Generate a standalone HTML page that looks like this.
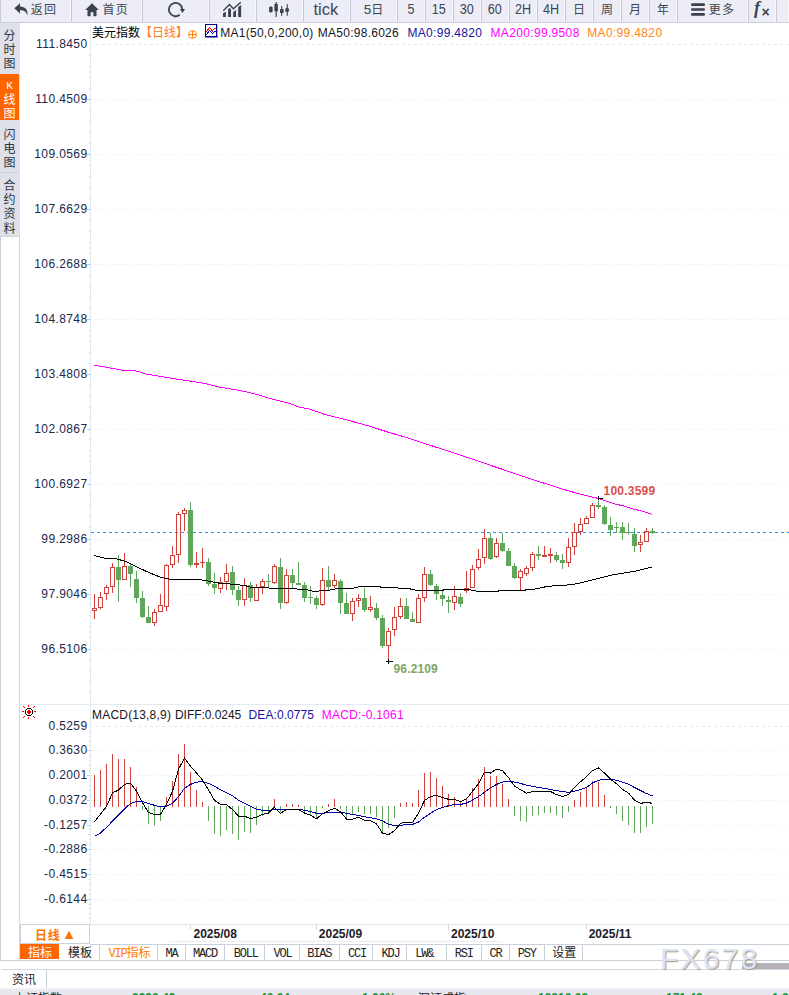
<!DOCTYPE html>
<html lang="zh"><head><meta charset="utf-8"><title>美元指数 日线</title><style>
html,body{margin:0;padding:0;background:#fff}
body{width:789px;height:995px;position:relative;overflow:hidden;font-family:"Liberation Sans","Noto Sans CJK SC",sans-serif;font-size:12px;color:#222}
.a{position:absolute;white-space:nowrap}
#tb{position:absolute;left:0;top:0;width:789px;height:22px;background:#ecedf6;border-bottom:1px solid #cdd0d9}
.b{position:absolute;top:0;height:22px;box-sizing:border-box;border-left:1px solid #c6c9d3;border-right:1px solid #f7f8fb;color:#3d4552;text-align:center;white-space:nowrap}
.b.first{border-left:1px solid #c9cbd3}
.t13{font-size:12px;line-height:20px}.ls{letter-spacing:1.2px}
.num{font-size:14px;line-height:19px}.num span{display:inline-block;transform:scaleX(.9)}
#sb{position:absolute;left:0;top:23px;width:20px;height:213px;background:#dfe1ea;border-bottom:1px solid #d0d8e0}
.sv{position:absolute;left:0;width:19px;text-align:center;font-size:12px;line-height:14px;color:#2e3542}
.yl{position:absolute;width:60px;text-align:right;font-size:12px;line-height:14px;color:#20284a;white-space:nowrap;letter-spacing:.4px}
.tab{position:absolute;top:945px;height:15px;line-height:17px;overflow:hidden;text-align:center;font-size:12px;white-space:nowrap;box-sizing:border-box;border-right:1px solid #c8d0dc;color:#222}
.mono{font-family:"Liberation Mono","Noto Sans CJK SC",monospace;letter-spacing:-1.2px;font-size:12px}
</style></head><body>
<div id="tb">
<div class="b t13 first" style="left:0px;width:71px"><svg width="15" height="13" viewBox="0 0 15 13" style="vertical-align:-2px;margin-right:2px"><path d="M6 0.2 L0.3 5.3 L6 10.4 V7.2 C9.6 7.1 12 8.2 13.3 12.2 C14.3 6.6 10.8 3.5 6 3.4 Z" fill="#39424e"/></svg><span class="ls">返回</span></div>
<div class="b t13" style="left:71px;width:71px"><svg width="14" height="14" viewBox="0 0 14 14" style="vertical-align:-3px;margin-right:3.5px;margin-left:1px"><path d="M7 0.3 L0.2 6.9 H2.5 V13.3 H5.6 V9.2 H8.4 V13.3 H11.5 V6.9 H13.8 Z" fill="#39424e"/></svg><span class="ls">首页</span></div>
<div class="b " style="left:142px;width:67px"><svg width="20" height="20" viewBox="0 0 20 20" style="position:absolute;left:23px;top:0px"><path d="M13.72 14.83 A6.7 6.7 0 1 1 16.3 9.35" fill="none" stroke="#39424e" stroke-width="1.8"/><path d="M13.9 9.1 H19 L16.45 13 Z" fill="#39424e"/></svg></div>
<div class="b " style="left:209px;width:47px"><svg width="20" height="17" viewBox="0 0 20 17" style="position:absolute;left:13px;top:1px"><g fill="#39424e"><path d="M0 15.9V12.3L2.9 10.8V15.9Z"/><path d="M5.1 15.9V8.3L6.55 7L8 8.3V15.9Z"/><path d="M10.2 15.9V11.2L13 9V15.9Z"/><path d="M15.2 15.9V6.1L18.1 3.9V15.9Z"/></g><path d="M0.2 9.7L6.4 3.4L10.4 7.7L17.8 1.2" fill="none" stroke="#39424e" stroke-width="1.4"/></svg></div>
<div class="b " style="left:256px;width:47px"><svg width="22" height="17" viewBox="0 0 22 17" style="position:absolute;left:11px;top:1px"><g fill="#39424e"><rect x="1.1" y="6.1" width="3.5" height="4.9" rx=".5"/><rect x="2.35" y="5" width="1" height="6.9"/><rect x="6.4" y="3" width="3.5" height="7.3" rx=".5"/><rect x="7.6" y="1" width="1.2" height="14.9"/><rect x="12" y="8.1" width="3.6" height="3.8" rx=".5"/><rect x="13.1" y="5" width="1.1" height="9.8"/><rect x="17.3" y="7.2" width="3.6" height="3.6" rx=".5"/><rect x="18.7" y="3.2" width="1.1" height="11.6"/></g></svg></div>
<div class="b tick" style="left:303px;width:47px"><span style="font-size:16.5px;line-height:19px;margin-left:-1.5px">tick</span></div>
<div class="b t13" style="left:350px;width:47px"><span style="font-size:13.5px">5</span>日</div>
<div class="b num" style="left:397px;width:28px"><span>5</span></div>
<div class="b num" style="left:425px;width:28px"><span>15</span></div>
<div class="b num" style="left:453px;width:28px"><span>30</span></div>
<div class="b num" style="left:481px;width:28px"><span>60</span></div>
<div class="b num" style="left:509px;width:28px"><span>2H</span></div>
<div class="b num" style="left:537px;width:28px"><span>4H</span></div>
<div class="b t13" style="left:565px;width:28px">日</div>
<div class="b t13" style="left:593px;width:28px">周</div>
<div class="b t13" style="left:621px;width:28px">月</div>
<div class="b t13" style="left:649px;width:28px">年</div>
<div class="b t13" style="left:677px;width:71px"><svg width="14" height="13" viewBox="0 0 14 13" style="vertical-align:-2px;margin-right:4px;margin-left:1px"><g fill="#39424e"><rect x="0" y="0.3" width="14" height="2.6" rx="1.2"/><rect x="0" y="5.2" width="14" height="2.6" rx="1.2"/><rect x="0" y="10.1" width="14" height="2.6" rx="1.2"/></g></svg><span class="ls">更多</span></div>
<div class="b fx" style="left:748px;width:28px"><span style="position:absolute;left:5px;top:-2px;font:italic bold 18px/20px 'Liberation Serif',serif">f</span><span style="position:absolute;left:12.5px;top:3px;font:bold 14px/18px 'Liberation Sans',sans-serif">×</span></div>
<div class="b " style="left:776px;width:13px"></div>
</div>
<div id="sb"></div>
<div class="a" style="left:0;top:236px;width:1px;height:724px;background:#c8d2dc"></div>
<div class="a" style="left:19px;top:236px;width:1px;height:724px;background:#d0d8e2"></div>
<div class="a" style="left:0;top:74px;width:19px;height:46px;background:#ff6600"></div>
<div class="a" style="left:0;top:172px;width:19px;height:1px;background:#cfd3dc"></div>
<div class="sv" style="top:29px;">分</div>
<div class="sv" style="top:43px;">时</div>
<div class="sv" style="top:57px;">图</div>
<div class="sv" style="top:79px;color:#fff;font-family:'Liberation Mono',monospace;font-size:11px">K</div>
<div class="sv" style="top:93px;color:#fff;">线</div>
<div class="sv" style="top:107px;color:#fff;">图</div>
<div class="sv" style="top:128px;">闪</div>
<div class="sv" style="top:142px;">电</div>
<div class="sv" style="top:156px;">图</div>
<div class="sv" style="top:179px;">合</div>
<div class="sv" style="top:193px;">约</div>
<div class="sv" style="top:207px;">资</div>
<div class="sv" style="top:222px;">料</div>
<svg class="a" style="left:0;top:0" width="789" height="995" viewBox="0 0 789 995" shape-rendering="crispEdges">
<rect x="90" y="22" width="1" height="902" fill="#e3e9f1"/>
<rect x="20" y="704" width="769" height="1" fill="#e2eaf2"/>
<rect x="90" y="924" width="699" height="1" fill="#dfe6ee"/>
<line x1="90" y1="44.5" x2="789" y2="44.5" stroke="#e3ecf4" stroke-width="1" stroke-dasharray="3 3"/>
<line x1="91" y1="99.5" x2="789" y2="99.5" stroke="#e4ebf2" stroke-width="1" stroke-dasharray="1 2"/>
<rect x="87" y="99" width="3" height="1" fill="#c3cbd6"/>
<line x1="91" y1="154.5" x2="789" y2="154.5" stroke="#e4ebf2" stroke-width="1" stroke-dasharray="1 2"/>
<rect x="87" y="154" width="3" height="1" fill="#c3cbd6"/>
<line x1="91" y1="209.5" x2="789" y2="209.5" stroke="#e4ebf2" stroke-width="1" stroke-dasharray="1 2"/>
<rect x="87" y="209" width="3" height="1" fill="#c3cbd6"/>
<line x1="91" y1="264.5" x2="789" y2="264.5" stroke="#e4ebf2" stroke-width="1" stroke-dasharray="1 2"/>
<rect x="87" y="264" width="3" height="1" fill="#c3cbd6"/>
<line x1="91" y1="319.5" x2="789" y2="319.5" stroke="#e4ebf2" stroke-width="1" stroke-dasharray="1 2"/>
<rect x="87" y="319" width="3" height="1" fill="#c3cbd6"/>
<line x1="91" y1="374.5" x2="789" y2="374.5" stroke="#e4ebf2" stroke-width="1" stroke-dasharray="1 2"/>
<rect x="87" y="374" width="3" height="1" fill="#c3cbd6"/>
<line x1="91" y1="429.5" x2="789" y2="429.5" stroke="#e4ebf2" stroke-width="1" stroke-dasharray="1 2"/>
<rect x="87" y="429" width="3" height="1" fill="#c3cbd6"/>
<line x1="91" y1="484.5" x2="789" y2="484.5" stroke="#e4ebf2" stroke-width="1" stroke-dasharray="1 2"/>
<rect x="87" y="484" width="3" height="1" fill="#c3cbd6"/>
<line x1="91" y1="539.5" x2="789" y2="539.5" stroke="#e4ebf2" stroke-width="1" stroke-dasharray="1 2"/>
<rect x="87" y="539" width="3" height="1" fill="#c3cbd6"/>
<line x1="91" y1="594.5" x2="789" y2="594.5" stroke="#e4ebf2" stroke-width="1" stroke-dasharray="1 2"/>
<rect x="87" y="594" width="3" height="1" fill="#c3cbd6"/>
<line x1="91" y1="649.5" x2="789" y2="649.5" stroke="#e4ebf2" stroke-width="1" stroke-dasharray="1 2"/>
<rect x="87" y="649" width="3" height="1" fill="#c3cbd6"/>
<rect x="89" y="55" width="1" height="1" fill="#c3cbd6"/>
<rect x="89" y="66" width="1" height="1" fill="#c3cbd6"/>
<rect x="89" y="77" width="1" height="1" fill="#c3cbd6"/>
<rect x="89" y="88" width="1" height="1" fill="#c3cbd6"/>
<rect x="89" y="110" width="1" height="1" fill="#c3cbd6"/>
<rect x="89" y="121" width="1" height="1" fill="#c3cbd6"/>
<rect x="89" y="132" width="1" height="1" fill="#c3cbd6"/>
<rect x="89" y="143" width="1" height="1" fill="#c3cbd6"/>
<rect x="89" y="165" width="1" height="1" fill="#c3cbd6"/>
<rect x="89" y="176" width="1" height="1" fill="#c3cbd6"/>
<rect x="89" y="187" width="1" height="1" fill="#c3cbd6"/>
<rect x="89" y="198" width="1" height="1" fill="#c3cbd6"/>
<rect x="89" y="220" width="1" height="1" fill="#c3cbd6"/>
<rect x="89" y="231" width="1" height="1" fill="#c3cbd6"/>
<rect x="89" y="242" width="1" height="1" fill="#c3cbd6"/>
<rect x="89" y="253" width="1" height="1" fill="#c3cbd6"/>
<rect x="89" y="275" width="1" height="1" fill="#c3cbd6"/>
<rect x="89" y="286" width="1" height="1" fill="#c3cbd6"/>
<rect x="89" y="297" width="1" height="1" fill="#c3cbd6"/>
<rect x="89" y="308" width="1" height="1" fill="#c3cbd6"/>
<rect x="89" y="330" width="1" height="1" fill="#c3cbd6"/>
<rect x="89" y="341" width="1" height="1" fill="#c3cbd6"/>
<rect x="89" y="352" width="1" height="1" fill="#c3cbd6"/>
<rect x="89" y="363" width="1" height="1" fill="#c3cbd6"/>
<rect x="89" y="385" width="1" height="1" fill="#c3cbd6"/>
<rect x="89" y="396" width="1" height="1" fill="#c3cbd6"/>
<rect x="89" y="407" width="1" height="1" fill="#c3cbd6"/>
<rect x="89" y="417" width="1" height="1" fill="#c3cbd6"/>
<rect x="89" y="439" width="1" height="1" fill="#c3cbd6"/>
<rect x="89" y="450" width="1" height="1" fill="#c3cbd6"/>
<rect x="89" y="461" width="1" height="1" fill="#c3cbd6"/>
<rect x="89" y="472" width="1" height="1" fill="#c3cbd6"/>
<rect x="89" y="494" width="1" height="1" fill="#c3cbd6"/>
<rect x="89" y="505" width="1" height="1" fill="#c3cbd6"/>
<rect x="89" y="516" width="1" height="1" fill="#c3cbd6"/>
<rect x="89" y="527" width="1" height="1" fill="#c3cbd6"/>
<rect x="89" y="549" width="1" height="1" fill="#c3cbd6"/>
<rect x="89" y="560" width="1" height="1" fill="#c3cbd6"/>
<rect x="89" y="571" width="1" height="1" fill="#c3cbd6"/>
<rect x="89" y="582" width="1" height="1" fill="#c3cbd6"/>
<rect x="89" y="604" width="1" height="1" fill="#c3cbd6"/>
<rect x="89" y="615" width="1" height="1" fill="#c3cbd6"/>
<rect x="89" y="626" width="1" height="1" fill="#c3cbd6"/>
<rect x="89" y="637" width="1" height="1" fill="#c3cbd6"/>
<rect x="89" y="659" width="1" height="1" fill="#c3cbd6"/>
<rect x="89" y="670" width="1" height="1" fill="#c3cbd6"/>
<rect x="89" y="681" width="1" height="1" fill="#c3cbd6"/>
<rect x="89" y="692" width="1" height="1" fill="#c3cbd6"/>
<line x1="90" y1="726.5" x2="789" y2="726.5" stroke="#e3ecf4" stroke-width="1" stroke-dasharray="3 3"/>
<line x1="91" y1="750.5" x2="789" y2="750.5" stroke="#e4ebf2" stroke-width="1" stroke-dasharray="1 2"/>
<rect x="87" y="750" width="3" height="1" fill="#c3cbd6"/>
<line x1="91" y1="775.5" x2="789" y2="775.5" stroke="#e4ebf2" stroke-width="1" stroke-dasharray="1 2"/>
<rect x="87" y="775" width="3" height="1" fill="#c3cbd6"/>
<line x1="91" y1="800.5" x2="789" y2="800.5" stroke="#e4ebf2" stroke-width="1" stroke-dasharray="1 2"/>
<rect x="87" y="800" width="3" height="1" fill="#c3cbd6"/>
<line x1="91" y1="825.5" x2="789" y2="825.5" stroke="#e4ebf2" stroke-width="1" stroke-dasharray="1 2"/>
<rect x="87" y="825" width="3" height="1" fill="#c3cbd6"/>
<line x1="91" y1="849.5" x2="789" y2="849.5" stroke="#e4ebf2" stroke-width="1" stroke-dasharray="1 2"/>
<rect x="87" y="849" width="3" height="1" fill="#c3cbd6"/>
<line x1="91" y1="874.5" x2="789" y2="874.5" stroke="#e4ebf2" stroke-width="1" stroke-dasharray="1 2"/>
<rect x="87" y="874" width="3" height="1" fill="#c3cbd6"/>
<line x1="91" y1="899.5" x2="789" y2="899.5" stroke="#e4ebf2" stroke-width="1" stroke-dasharray="1 2"/>
<rect x="87" y="899" width="3" height="1" fill="#c3cbd6"/>
<rect x="89" y="731" width="1" height="1" fill="#c3cbd6"/>
<rect x="89" y="736" width="1" height="1" fill="#c3cbd6"/>
<rect x="89" y="741" width="1" height="1" fill="#c3cbd6"/>
<rect x="89" y="745" width="1" height="1" fill="#c3cbd6"/>
<rect x="89" y="755" width="1" height="1" fill="#c3cbd6"/>
<rect x="89" y="760" width="1" height="1" fill="#c3cbd6"/>
<rect x="89" y="765" width="1" height="1" fill="#c3cbd6"/>
<rect x="89" y="770" width="1" height="1" fill="#c3cbd6"/>
<rect x="89" y="780" width="1" height="1" fill="#c3cbd6"/>
<rect x="89" y="785" width="1" height="1" fill="#c3cbd6"/>
<rect x="89" y="790" width="1" height="1" fill="#c3cbd6"/>
<rect x="89" y="795" width="1" height="1" fill="#c3cbd6"/>
<rect x="89" y="805" width="1" height="1" fill="#c3cbd6"/>
<rect x="89" y="810" width="1" height="1" fill="#c3cbd6"/>
<rect x="89" y="815" width="1" height="1" fill="#c3cbd6"/>
<rect x="89" y="820" width="1" height="1" fill="#c3cbd6"/>
<rect x="89" y="829" width="1" height="1" fill="#c3cbd6"/>
<rect x="89" y="834" width="1" height="1" fill="#c3cbd6"/>
<rect x="89" y="839" width="1" height="1" fill="#c3cbd6"/>
<rect x="89" y="844" width="1" height="1" fill="#c3cbd6"/>
<rect x="89" y="854" width="1" height="1" fill="#c3cbd6"/>
<rect x="89" y="859" width="1" height="1" fill="#c3cbd6"/>
<rect x="89" y="864" width="1" height="1" fill="#c3cbd6"/>
<rect x="89" y="869" width="1" height="1" fill="#c3cbd6"/>
<rect x="89" y="879" width="1" height="1" fill="#c3cbd6"/>
<rect x="89" y="884" width="1" height="1" fill="#c3cbd6"/>
<rect x="89" y="889" width="1" height="1" fill="#c3cbd6"/>
<rect x="89" y="894" width="1" height="1" fill="#c3cbd6"/>
<rect x="89" y="904" width="1" height="1" fill="#c3cbd6"/>
<rect x="89" y="908" width="1" height="1" fill="#c3cbd6"/>
<rect x="89" y="913" width="1" height="1" fill="#c3cbd6"/>
<rect x="89" y="918" width="1" height="1" fill="#c3cbd6"/>
<rect x="190" y="925" width="1" height="5" fill="#d5dbe4"/>
<rect x="316" y="925" width="1" height="5" fill="#d5dbe4"/>
<rect x="448" y="925" width="1" height="5" fill="#d5dbe4"/>
<rect x="586" y="925" width="1" height="5" fill="#d5dbe4"/>
<line x1="91" y1="532.5" x2="789" y2="532.5" stroke="#1e8fff" stroke-width="1" stroke-dasharray="3 3"/>
<polyline fill="none" stroke="#ff00ff" stroke-width="1" points="94.3,365.1 122.2,370.2 133.6,370.2 146.3,374.0 171.7,378.3 204.6,383.4 219.8,387.2 240.1,390.5 256.6,394.3 268.0,398.1 288.0,402.9 300.0,407.4 307.6,408.6 325.3,414.6 338.0,417.8 350.7,421.0 363.4,424.4 376.0,428.2 388.7,432.4 400.0,435.5 450.7,451.9 500.0,468.5 512.7,472.9 525.3,477.1 538.0,481.3 550.7,485.3 563.4,489.4 576.0,493.0 588.7,496.1 598.5,498.5 604.5,500.5 610.5,502.5 616.5,504.5 622.5,505.5 628.5,507.5 634.5,509.5 640.5,510.5 646.5,512.5 652.5,514.5"/>
<rect x="94" y="594" width="1" height="14" fill="#d2423c"/>
<rect x="94" y="611" width="1" height="8" fill="#d2423c"/>
<rect x="92.5" y="608.5" width="4" height="2" fill="none" stroke="#d2423c" stroke-width="1"/>
<rect x="100" y="592" width="1" height="5" fill="#d2423c"/>
<rect x="100" y="608" width="1" height="1" fill="#d2423c"/>
<rect x="98.5" y="597.5" width="4" height="10" fill="none" stroke="#d2423c" stroke-width="1"/>
<rect x="106" y="585" width="1" height="2" fill="#d2423c"/>
<rect x="106" y="594" width="1" height="6" fill="#d2423c"/>
<rect x="104.5" y="587.5" width="4" height="6" fill="none" stroke="#d2423c" stroke-width="1"/>
<rect x="112" y="563" width="1" height="4" fill="#d2423c"/>
<rect x="112" y="587" width="1" height="6" fill="#d2423c"/>
<rect x="110.5" y="567.5" width="4" height="19" fill="none" stroke="#d2423c" stroke-width="1"/>
<rect x="118" y="555" width="1" height="47" fill="#60a65b"/>
<rect x="116" y="567" width="5" height="13" fill="#60a65b"/>
<rect x="124" y="553" width="1" height="13" fill="#d2423c"/>
<rect x="122.5" y="566.5" width="4" height="13" fill="none" stroke="#d2423c" stroke-width="1"/>
<rect x="130" y="564" width="1" height="23" fill="#60a65b"/>
<rect x="128" y="566" width="5" height="8" fill="#60a65b"/>
<rect x="136" y="571" width="1" height="32" fill="#60a65b"/>
<rect x="134" y="579" width="5" height="19" fill="#60a65b"/>
<rect x="142" y="591" width="1" height="27" fill="#60a65b"/>
<rect x="140" y="598" width="5" height="19" fill="#60a65b"/>
<rect x="148" y="606" width="1" height="17" fill="#60a65b"/>
<rect x="146" y="617" width="5" height="6" fill="#60a65b"/>
<rect x="154" y="609" width="1" height="3" fill="#d2423c"/>
<rect x="154" y="623" width="1" height="3" fill="#d2423c"/>
<rect x="152.5" y="612.5" width="4" height="10" fill="none" stroke="#d2423c" stroke-width="1"/>
<rect x="160" y="594" width="1" height="11" fill="#d2423c"/>
<rect x="158.5" y="605.5" width="4" height="6" fill="none" stroke="#d2423c" stroke-width="1"/>
<rect x="166" y="564" width="1" height="1" fill="#d2423c"/>
<rect x="166" y="607" width="1" height="4" fill="#d2423c"/>
<rect x="164.5" y="565.5" width="4" height="41" fill="none" stroke="#d2423c" stroke-width="1"/>
<rect x="172" y="546" width="1" height="9" fill="#d2423c"/>
<rect x="172" y="565" width="1" height="3" fill="#d2423c"/>
<rect x="170.5" y="555.5" width="4" height="9" fill="none" stroke="#d2423c" stroke-width="1"/>
<rect x="178" y="512" width="1" height="2" fill="#d2423c"/>
<rect x="178" y="555" width="1" height="8" fill="#d2423c"/>
<rect x="176.5" y="514.5" width="4" height="40" fill="none" stroke="#d2423c" stroke-width="1"/>
<rect x="184" y="508" width="1" height="2" fill="#d2423c"/>
<rect x="184" y="514" width="1" height="17" fill="#d2423c"/>
<rect x="182.5" y="510.5" width="4" height="3" fill="none" stroke="#d2423c" stroke-width="1"/>
<rect x="190" y="502" width="1" height="65" fill="#60a65b"/>
<rect x="188" y="510" width="5" height="55" fill="#60a65b"/>
<rect x="196" y="552" width="1" height="11" fill="#d2423c"/>
<rect x="196" y="565" width="1" height="3" fill="#d2423c"/>
<rect x="194" y="563" width="5" height="2" fill="#d2423c"/>
<rect x="202" y="548" width="1" height="14" fill="#d2423c"/>
<rect x="202" y="563" width="1" height="5" fill="#d2423c"/>
<rect x="200" y="562" width="5" height="1" fill="#d2423c"/>
<rect x="208" y="558" width="1" height="28" fill="#60a65b"/>
<rect x="206" y="562" width="5" height="22" fill="#60a65b"/>
<rect x="214" y="573" width="1" height="21" fill="#60a65b"/>
<rect x="212" y="584" width="5" height="4" fill="#60a65b"/>
<rect x="220" y="577" width="1" height="5" fill="#d2423c"/>
<rect x="220" y="589" width="1" height="4" fill="#d2423c"/>
<rect x="218.5" y="582.5" width="4" height="6" fill="none" stroke="#d2423c" stroke-width="1"/>
<rect x="226" y="564" width="1" height="9" fill="#d2423c"/>
<rect x="226" y="582" width="1" height="8" fill="#d2423c"/>
<rect x="224.5" y="573.5" width="4" height="8" fill="none" stroke="#d2423c" stroke-width="1"/>
<rect x="232" y="566" width="1" height="29" fill="#60a65b"/>
<rect x="230" y="572" width="5" height="18" fill="#60a65b"/>
<rect x="238" y="586" width="1" height="20" fill="#60a65b"/>
<rect x="236" y="590" width="5" height="10" fill="#60a65b"/>
<rect x="244" y="578" width="1" height="7" fill="#d2423c"/>
<rect x="244" y="600" width="1" height="6" fill="#d2423c"/>
<rect x="242.5" y="585.5" width="4" height="14" fill="none" stroke="#d2423c" stroke-width="1"/>
<rect x="250" y="582" width="1" height="20" fill="#60a65b"/>
<rect x="248" y="585" width="5" height="13" fill="#60a65b"/>
<rect x="256" y="584" width="1" height="3" fill="#d2423c"/>
<rect x="254.5" y="587.5" width="4" height="13" fill="none" stroke="#d2423c" stroke-width="1"/>
<rect x="262" y="579" width="1" height="2" fill="#d2423c"/>
<rect x="262" y="587" width="1" height="7" fill="#d2423c"/>
<rect x="260.5" y="581.5" width="4" height="5" fill="none" stroke="#d2423c" stroke-width="1"/>
<rect x="268" y="574" width="1" height="14" fill="#60a65b"/>
<rect x="266" y="581" width="5" height="1" fill="#60a65b"/>
<rect x="274" y="564" width="1" height="2" fill="#d2423c"/>
<rect x="274" y="583" width="1" height="1" fill="#d2423c"/>
<rect x="272.5" y="566.5" width="4" height="16" fill="none" stroke="#d2423c" stroke-width="1"/>
<rect x="280" y="558" width="1" height="51" fill="#60a65b"/>
<rect x="278" y="567" width="5" height="36" fill="#60a65b"/>
<rect x="286" y="569" width="1" height="6" fill="#d2423c"/>
<rect x="286" y="603" width="1" height="1" fill="#d2423c"/>
<rect x="284.5" y="575.5" width="4" height="27" fill="none" stroke="#d2423c" stroke-width="1"/>
<rect x="292" y="569" width="1" height="19" fill="#60a65b"/>
<rect x="290" y="575" width="5" height="8" fill="#60a65b"/>
<rect x="298" y="562" width="1" height="23" fill="#60a65b"/>
<rect x="296" y="583" width="5" height="2" fill="#60a65b"/>
<rect x="304" y="582" width="1" height="20" fill="#60a65b"/>
<rect x="302" y="585" width="5" height="13" fill="#60a65b"/>
<rect x="310" y="586" width="1" height="18" fill="#60a65b"/>
<rect x="308" y="597" width="5" height="1" fill="#60a65b"/>
<rect x="316" y="596" width="1" height="13" fill="#60a65b"/>
<rect x="314" y="598" width="5" height="7" fill="#60a65b"/>
<rect x="322" y="568" width="1" height="12" fill="#d2423c"/>
<rect x="322" y="605" width="1" height="1" fill="#d2423c"/>
<rect x="320.5" y="580.5" width="4" height="24" fill="none" stroke="#d2423c" stroke-width="1"/>
<rect x="328" y="566" width="1" height="24" fill="#60a65b"/>
<rect x="326" y="580" width="5" height="7" fill="#60a65b"/>
<rect x="334" y="574" width="1" height="6" fill="#d2423c"/>
<rect x="334" y="586" width="1" height="2" fill="#d2423c"/>
<rect x="332.5" y="580.5" width="4" height="5" fill="none" stroke="#d2423c" stroke-width="1"/>
<rect x="340" y="579" width="1" height="35" fill="#60a65b"/>
<rect x="338" y="581" width="5" height="22" fill="#60a65b"/>
<rect x="346" y="593" width="1" height="21" fill="#60a65b"/>
<rect x="344" y="603" width="5" height="11" fill="#60a65b"/>
<rect x="352" y="598" width="1" height="3" fill="#d2423c"/>
<rect x="352" y="614" width="1" height="7" fill="#d2423c"/>
<rect x="350.5" y="601.5" width="4" height="12" fill="none" stroke="#d2423c" stroke-width="1"/>
<rect x="358" y="594" width="1" height="4" fill="#d2423c"/>
<rect x="358" y="601" width="1" height="6" fill="#d2423c"/>
<rect x="356.5" y="598.5" width="4" height="2" fill="none" stroke="#d2423c" stroke-width="1"/>
<rect x="364" y="588" width="1" height="24" fill="#60a65b"/>
<rect x="362" y="598" width="5" height="12" fill="#60a65b"/>
<rect x="370" y="596" width="1" height="11" fill="#d2423c"/>
<rect x="370" y="610" width="1" height="2" fill="#d2423c"/>
<rect x="368.5" y="607.5" width="4" height="2" fill="none" stroke="#d2423c" stroke-width="1"/>
<rect x="376" y="603" width="1" height="17" fill="#60a65b"/>
<rect x="374" y="608" width="5" height="10" fill="#60a65b"/>
<rect x="382" y="615" width="1" height="33" fill="#60a65b"/>
<rect x="380" y="618" width="5" height="28" fill="#60a65b"/>
<rect x="388" y="628" width="1" height="3" fill="#d2423c"/>
<rect x="388" y="646" width="1" height="15" fill="#d2423c"/>
<rect x="386.5" y="631.5" width="4" height="14" fill="none" stroke="#d2423c" stroke-width="1"/>
<rect x="394" y="607" width="1" height="10" fill="#d2423c"/>
<rect x="394" y="630" width="1" height="6" fill="#d2423c"/>
<rect x="392.5" y="617.5" width="4" height="12" fill="none" stroke="#d2423c" stroke-width="1"/>
<rect x="400" y="598" width="1" height="8" fill="#d2423c"/>
<rect x="400" y="617" width="1" height="2" fill="#d2423c"/>
<rect x="398.5" y="606.5" width="4" height="10" fill="none" stroke="#d2423c" stroke-width="1"/>
<rect x="406" y="598" width="1" height="21" fill="#60a65b"/>
<rect x="404" y="606" width="5" height="13" fill="#60a65b"/>
<rect x="412" y="612" width="1" height="10" fill="#60a65b"/>
<rect x="410" y="619" width="5" height="3" fill="#60a65b"/>
<rect x="418" y="594" width="1" height="4" fill="#d2423c"/>
<rect x="416.5" y="598.5" width="4" height="24" fill="none" stroke="#d2423c" stroke-width="1"/>
<rect x="424" y="567" width="1" height="7" fill="#d2423c"/>
<rect x="424" y="598" width="1" height="4" fill="#d2423c"/>
<rect x="422.5" y="574.5" width="4" height="23" fill="none" stroke="#d2423c" stroke-width="1"/>
<rect x="430" y="570" width="1" height="16" fill="#60a65b"/>
<rect x="428" y="574" width="5" height="11" fill="#60a65b"/>
<rect x="436" y="584" width="1" height="16" fill="#60a65b"/>
<rect x="434" y="586" width="5" height="8" fill="#60a65b"/>
<rect x="442" y="589" width="1" height="17" fill="#60a65b"/>
<rect x="440" y="595" width="5" height="4" fill="#60a65b"/>
<rect x="448" y="596" width="1" height="17" fill="#60a65b"/>
<rect x="446" y="600" width="5" height="2" fill="#60a65b"/>
<rect x="454" y="586" width="1" height="10" fill="#d2423c"/>
<rect x="454" y="603" width="1" height="7" fill="#d2423c"/>
<rect x="452.5" y="596.5" width="4" height="6" fill="none" stroke="#d2423c" stroke-width="1"/>
<rect x="460" y="593" width="1" height="14" fill="#60a65b"/>
<rect x="458" y="597" width="5" height="7" fill="#60a65b"/>
<rect x="466" y="571" width="1" height="17" fill="#d2423c"/>
<rect x="466" y="591" width="1" height="2" fill="#d2423c"/>
<rect x="464.5" y="588.5" width="4" height="2" fill="none" stroke="#d2423c" stroke-width="1"/>
<rect x="472" y="565" width="1" height="4" fill="#d2423c"/>
<rect x="470.5" y="569.5" width="4" height="18" fill="none" stroke="#d2423c" stroke-width="1"/>
<rect x="478" y="549" width="1" height="10" fill="#d2423c"/>
<rect x="478" y="568" width="1" height="2" fill="#d2423c"/>
<rect x="476.5" y="559.5" width="4" height="8" fill="none" stroke="#d2423c" stroke-width="1"/>
<rect x="484" y="529" width="1" height="9" fill="#d2423c"/>
<rect x="484" y="558" width="1" height="6" fill="#d2423c"/>
<rect x="482.5" y="538.5" width="4" height="19" fill="none" stroke="#d2423c" stroke-width="1"/>
<rect x="490" y="533" width="1" height="27" fill="#60a65b"/>
<rect x="488" y="538" width="5" height="21" fill="#60a65b"/>
<rect x="496" y="538" width="1" height="5" fill="#d2423c"/>
<rect x="496" y="557" width="1" height="1" fill="#d2423c"/>
<rect x="494.5" y="543.5" width="4" height="13" fill="none" stroke="#d2423c" stroke-width="1"/>
<rect x="502" y="533" width="1" height="19" fill="#60a65b"/>
<rect x="500" y="543" width="5" height="8" fill="#60a65b"/>
<rect x="508" y="548" width="1" height="18" fill="#60a65b"/>
<rect x="506" y="551" width="5" height="15" fill="#60a65b"/>
<rect x="514" y="563" width="1" height="16" fill="#60a65b"/>
<rect x="512" y="566" width="5" height="12" fill="#60a65b"/>
<rect x="520" y="569" width="1" height="2" fill="#d2423c"/>
<rect x="520" y="578" width="1" height="12" fill="#d2423c"/>
<rect x="518.5" y="571.5" width="4" height="6" fill="none" stroke="#d2423c" stroke-width="1"/>
<rect x="526" y="566" width="1" height="2" fill="#d2423c"/>
<rect x="526" y="574" width="1" height="2" fill="#d2423c"/>
<rect x="524.5" y="568.5" width="4" height="5" fill="none" stroke="#d2423c" stroke-width="1"/>
<rect x="532" y="552" width="1" height="2" fill="#d2423c"/>
<rect x="532" y="568" width="1" height="3" fill="#d2423c"/>
<rect x="530.5" y="554.5" width="4" height="13" fill="none" stroke="#d2423c" stroke-width="1"/>
<rect x="538" y="546" width="1" height="14" fill="#60a65b"/>
<rect x="536" y="554" width="5" height="2" fill="#60a65b"/>
<rect x="544" y="546" width="1" height="9" fill="#d2423c"/>
<rect x="542" y="555" width="5" height="2" fill="#d2423c"/>
<rect x="550" y="548" width="1" height="6" fill="#d2423c"/>
<rect x="550" y="556" width="1" height="7" fill="#d2423c"/>
<rect x="548" y="554" width="5" height="2" fill="#d2423c"/>
<rect x="556" y="552" width="1" height="10" fill="#60a65b"/>
<rect x="554" y="555" width="5" height="5" fill="#60a65b"/>
<rect x="562" y="554" width="1" height="15" fill="#60a65b"/>
<rect x="560" y="560" width="5" height="3" fill="#60a65b"/>
<rect x="568" y="538" width="1" height="9" fill="#d2423c"/>
<rect x="568" y="563" width="1" height="4" fill="#d2423c"/>
<rect x="566.5" y="547.5" width="4" height="15" fill="none" stroke="#d2423c" stroke-width="1"/>
<rect x="574" y="523" width="1" height="9" fill="#d2423c"/>
<rect x="574" y="547" width="1" height="8" fill="#d2423c"/>
<rect x="572.5" y="532.5" width="4" height="14" fill="none" stroke="#d2423c" stroke-width="1"/>
<rect x="580" y="518" width="1" height="6" fill="#d2423c"/>
<rect x="580" y="532" width="1" height="3" fill="#d2423c"/>
<rect x="578.5" y="524.5" width="4" height="7" fill="none" stroke="#d2423c" stroke-width="1"/>
<rect x="586" y="516" width="1" height="2" fill="#d2423c"/>
<rect x="584.5" y="518.5" width="4" height="5" fill="none" stroke="#d2423c" stroke-width="1"/>
<rect x="592" y="503" width="1" height="2" fill="#d2423c"/>
<rect x="590.5" y="505.5" width="4" height="12" fill="none" stroke="#d2423c" stroke-width="1"/>
<rect x="598" y="496" width="1" height="13" fill="#60a65b"/>
<rect x="596" y="505" width="5" height="2" fill="#60a65b"/>
<rect x="604" y="505" width="1" height="20" fill="#60a65b"/>
<rect x="602" y="507" width="5" height="17" fill="#60a65b"/>
<rect x="610" y="517" width="1" height="19" fill="#60a65b"/>
<rect x="608" y="525" width="5" height="5" fill="#60a65b"/>
<rect x="616" y="522" width="1" height="11" fill="#60a65b"/>
<rect x="614" y="527" width="5" height="1" fill="#60a65b"/>
<rect x="622" y="522" width="1" height="18" fill="#60a65b"/>
<rect x="620" y="527" width="5" height="6" fill="#60a65b"/>
<rect x="628" y="523" width="1" height="12" fill="#60a65b"/>
<rect x="626" y="532" width="5" height="1" fill="#60a65b"/>
<rect x="634" y="528" width="1" height="24" fill="#60a65b"/>
<rect x="632" y="534" width="5" height="12" fill="#60a65b"/>
<rect x="640" y="535" width="1" height="7" fill="#d2423c"/>
<rect x="640" y="545" width="1" height="7" fill="#d2423c"/>
<rect x="638.5" y="542.5" width="4" height="2" fill="none" stroke="#d2423c" stroke-width="1"/>
<rect x="646" y="528" width="1" height="3" fill="#d2423c"/>
<rect x="644.5" y="531.5" width="4" height="10" fill="none" stroke="#d2423c" stroke-width="1"/>
<rect x="652" y="528" width="1" height="6" fill="#60a65b"/>
<rect x="650" y="531" width="5" height="2" fill="#60a65b"/>
<polyline fill="none" stroke="#000" stroke-width="1" points="94.3,555.5 106.3,558.6 115.4,558.6 124.6,561.1 130.2,563.5 136.5,566.7 148.5,572.4 160.6,577.3 166.5,578.7 172.4,579.4 199.1,579.4 211.8,581.8 220.2,583.3 234.3,584.3 245.5,585.7 251.1,587.4 259.6,587.8 278.0,588.2 294.7,588.1 297.5,589.4 307.4,589.8 314.4,591.5 317.9,591.5 320.7,590.2 329.9,590.2 332.7,589.1 352.4,588.4 356.6,587.2 362.2,586.3 379.1,586.3 381.2,587.3 397.4,587.7 398.8,588.4 410.0,588.9 416.4,590.3 442.4,590.3 445.9,589.4 469.1,589.6 476.1,591.0 498.6,591.0 500.0,590.3 522.5,590.3 533.8,589.2 548.0,586.3 571.1,584.7 580.2,583.0 594.3,579.4 612.5,574.9 638.0,570.6 651.9,567.1"/>
<rect x="598" y="496" width="1" height="4" fill="#000"/><rect x="598" y="498" width="5" height="1" fill="#000"/>
<rect x="388" y="659" width="1" height="5" fill="#000"/><rect x="386" y="661" width="7" height="1" fill="#000"/>
<rect x="94" y="775" width="1" height="32" fill="#d2423c"/>
<rect x="100" y="770" width="1" height="37" fill="#d2423c"/>
<rect x="106" y="764" width="1" height="43" fill="#d2423c"/>
<rect x="112" y="754" width="1" height="53" fill="#d2423c"/>
<rect x="118" y="759" width="1" height="48" fill="#d2423c"/>
<rect x="124" y="759" width="1" height="48" fill="#d2423c"/>
<rect x="130" y="767" width="1" height="40" fill="#d2423c"/>
<rect x="136" y="787" width="1" height="20" fill="#d2423c"/>
<rect x="142" y="806" width="1" height="4" fill="#60a65b"/>
<rect x="148" y="806" width="1" height="18" fill="#60a65b"/>
<rect x="154" y="806" width="1" height="20" fill="#60a65b"/>
<rect x="160" y="806" width="1" height="15" fill="#60a65b"/>
<rect x="166" y="797" width="1" height="10" fill="#d2423c"/>
<rect x="172" y="781" width="1" height="26" fill="#d2423c"/>
<rect x="178" y="754" width="1" height="53" fill="#d2423c"/>
<rect x="184" y="744" width="1" height="63" fill="#d2423c"/>
<rect x="190" y="772" width="1" height="35" fill="#d2423c"/>
<rect x="196" y="790" width="1" height="17" fill="#d2423c"/>
<rect x="202" y="802" width="1" height="5" fill="#d2423c"/>
<rect x="208" y="806" width="1" height="15" fill="#60a65b"/>
<rect x="214" y="806" width="1" height="28" fill="#60a65b"/>
<rect x="220" y="806" width="1" height="30" fill="#60a65b"/>
<rect x="226" y="806" width="1" height="24" fill="#60a65b"/>
<rect x="232" y="806" width="1" height="28" fill="#60a65b"/>
<rect x="238" y="806" width="1" height="34" fill="#60a65b"/>
<rect x="244" y="806" width="1" height="26" fill="#60a65b"/>
<rect x="250" y="806" width="1" height="27" fill="#60a65b"/>
<rect x="256" y="806" width="1" height="19" fill="#60a65b"/>
<rect x="262" y="806" width="1" height="10" fill="#60a65b"/>
<rect x="268" y="806" width="1" height="6" fill="#60a65b"/>
<rect x="274" y="799" width="1" height="8" fill="#d2423c"/>
<rect x="280" y="806" width="1" height="6" fill="#60a65b"/>
<rect x="286" y="804" width="1" height="3" fill="#d2423c"/>
<rect x="292" y="804" width="1" height="3" fill="#d2423c"/>
<rect x="298" y="805" width="1" height="2" fill="#d2423c"/>
<rect x="304" y="806" width="1" height="6" fill="#60a65b"/>
<rect x="310" y="806" width="1" height="10" fill="#60a65b"/>
<rect x="316" y="806" width="1" height="13" fill="#60a65b"/>
<rect x="322" y="806" width="1" height="2" fill="#60a65b"/>
<rect x="328" y="804" width="1" height="3" fill="#d2423c"/>
<rect x="334" y="799" width="1" height="8" fill="#d2423c"/>
<rect x="340" y="806" width="1" height="3" fill="#60a65b"/>
<rect x="346" y="806" width="1" height="13" fill="#60a65b"/>
<rect x="352" y="806" width="1" height="9" fill="#60a65b"/>
<rect x="358" y="806" width="1" height="6" fill="#60a65b"/>
<rect x="364" y="806" width="1" height="8" fill="#60a65b"/>
<rect x="370" y="806" width="1" height="8" fill="#60a65b"/>
<rect x="376" y="806" width="1" height="11" fill="#60a65b"/>
<rect x="382" y="806" width="1" height="26" fill="#60a65b"/>
<rect x="388" y="806" width="1" height="22" fill="#60a65b"/>
<rect x="394" y="806" width="1" height="12" fill="#60a65b"/>
<rect x="400" y="803" width="1" height="4" fill="#d2423c"/>
<rect x="406" y="802" width="1" height="5" fill="#d2423c"/>
<rect x="412" y="803" width="1" height="4" fill="#d2423c"/>
<rect x="418" y="790" width="1" height="17" fill="#d2423c"/>
<rect x="424" y="773" width="1" height="34" fill="#d2423c"/>
<rect x="430" y="772" width="1" height="35" fill="#d2423c"/>
<rect x="436" y="778" width="1" height="29" fill="#d2423c"/>
<rect x="442" y="786" width="1" height="21" fill="#d2423c"/>
<rect x="448" y="794" width="1" height="13" fill="#d2423c"/>
<rect x="454" y="797" width="1" height="10" fill="#d2423c"/>
<rect x="460" y="802" width="1" height="5" fill="#d2423c"/>
<rect x="466" y="798" width="1" height="9" fill="#d2423c"/>
<rect x="472" y="788" width="1" height="19" fill="#d2423c"/>
<rect x="478" y="779" width="1" height="28" fill="#d2423c"/>
<rect x="484" y="767" width="1" height="40" fill="#d2423c"/>
<rect x="490" y="776" width="1" height="31" fill="#d2423c"/>
<rect x="496" y="776" width="1" height="31" fill="#d2423c"/>
<rect x="502" y="784" width="1" height="23" fill="#d2423c"/>
<rect x="508" y="799" width="1" height="8" fill="#d2423c"/>
<rect x="514" y="806" width="1" height="10" fill="#60a65b"/>
<rect x="520" y="806" width="1" height="15" fill="#60a65b"/>
<rect x="526" y="806" width="1" height="16" fill="#60a65b"/>
<rect x="532" y="806" width="1" height="10" fill="#60a65b"/>
<rect x="538" y="806" width="1" height="9" fill="#60a65b"/>
<rect x="544" y="806" width="1" height="7" fill="#60a65b"/>
<rect x="550" y="806" width="1" height="7" fill="#60a65b"/>
<rect x="556" y="806" width="1" height="9" fill="#60a65b"/>
<rect x="562" y="806" width="1" height="12" fill="#60a65b"/>
<rect x="568" y="806" width="1" height="6" fill="#60a65b"/>
<rect x="574" y="800" width="1" height="7" fill="#d2423c"/>
<rect x="580" y="792" width="1" height="15" fill="#d2423c"/>
<rect x="586" y="787" width="1" height="20" fill="#d2423c"/>
<rect x="592" y="781" width="1" height="26" fill="#d2423c"/>
<rect x="598" y="782" width="1" height="25" fill="#d2423c"/>
<rect x="604" y="795" width="1" height="12" fill="#d2423c"/>
<rect x="610" y="806" width="1" height="2" fill="#60a65b"/>
<rect x="616" y="806" width="1" height="8" fill="#60a65b"/>
<rect x="622" y="806" width="1" height="15" fill="#60a65b"/>
<rect x="628" y="806" width="1" height="19" fill="#60a65b"/>
<rect x="634" y="806" width="1" height="27" fill="#60a65b"/>
<rect x="640" y="806" width="1" height="27" fill="#60a65b"/>
<rect x="646" y="806" width="1" height="21" fill="#60a65b"/>
<rect x="652" y="806" width="1" height="18" fill="#60a65b"/>
<polyline fill="none" stroke="#0000a8" stroke-width="1" points="94.5,836.4 100.5,833.1 106.5,827.3 112.5,821.2 118.5,815.2 124.5,808.8 130.5,803.4 136.5,801.5 142.5,801.5 148.5,803.4 154.5,805.3 160.5,806.8 166.5,806.2 172.5,803.4 178.5,796.6 184.5,788.2 190.5,784.4 196.5,782.1 202.5,781.6 208.5,783.4 214.5,786.1 220.5,789.8 226.5,792.8 232.5,795.8 238.5,800.4 244.5,803.4 250.5,806.2 256.5,809.1 262.5,810.3 268.5,810.3 274.5,809.5 280.5,810.0 286.5,809.8 292.5,809.5 298.5,809.2 304.5,810.3 310.5,811.6 316.5,813.3 322.5,813.6 328.5,812.3 334.5,812.3 340.5,812.3 346.5,813.3 352.5,814.4 358.5,815.5 364.5,816.7 370.5,817.7 376.5,818.7 382.5,820.9 388.5,824.3 394.5,825.5 400.5,825.2 406.5,824.7 412.5,824.4 418.5,822.0 424.5,817.3 430.5,813.3 436.5,809.5 442.5,807.5 448.5,805.7 454.5,804.5 460.5,804.5 466.5,803.0 472.5,800.1 478.5,796.6 484.5,792.3 490.5,787.8 496.5,784.4 502.5,782.1 508.5,781.4 514.5,782.1 520.5,783.4 526.5,785.2 532.5,786.3 538.5,787.4 544.5,788.4 550.5,789.6 556.5,790.5 562.5,791.6 568.5,792.3 574.5,791.3 580.5,789.4 586.5,787.5 592.5,782.9 598.5,780.2 604.5,779.1 610.5,779.4 616.5,780.2 622.5,782.1 628.5,784.1 634.5,787.5 640.5,790.5 646.5,793.6 652.5,795.8"/>
<polyline fill="none" stroke="#000" stroke-width="1" points="94.5,821.7 100.5,814.1 106.5,806.5 112.5,792.8 118.5,790.1 124.5,784.4 130.5,783.2 136.5,791.3 142.5,802.7 148.5,812.6 154.5,814.4 160.5,814.4 166.5,804.2 172.5,791.3 178.5,769.2 184.5,758.1 190.5,766.2 196.5,773.0 202.5,780.0 208.5,789.8 214.5,800.4 220.5,804.2 226.5,804.7 232.5,809.5 238.5,816.1 244.5,816.1 250.5,818.7 256.5,817.1 262.5,814.4 268.5,813.0 274.5,807.2 280.5,813.3 286.5,809.5 292.5,809.5 298.5,809.5 304.5,813.0 310.5,815.2 316.5,818.9 322.5,813.6 328.5,810.6 334.5,808.3 340.5,811.8 346.5,819.1 352.5,819.1 358.5,817.1 364.5,820.2 370.5,820.5 376.5,824.0 382.5,833.1 388.5,834.6 394.5,830.8 400.5,823.2 406.5,822.5 412.5,822.5 418.5,813.3 424.5,800.4 430.5,796.6 436.5,795.4 442.5,797.4 448.5,799.3 454.5,799.3 460.5,801.6 466.5,798.9 472.5,791.3 478.5,783.7 484.5,772.3 490.5,773.0 496.5,769.2 502.5,770.7 508.5,777.6 514.5,786.0 520.5,789.8 526.5,793.1 532.5,791.6 538.5,791.4 544.5,791.4 550.5,791.5 556.5,794.6 562.5,796.6 568.5,794.3 574.5,787.5 580.5,781.8 586.5,776.8 592.5,770.7 598.5,768.0 604.5,773.0 610.5,779.1 616.5,783.7 622.5,789.4 628.5,793.1 634.5,800.1 640.5,803.4 646.5,802.2 652.5,803.4"/>
</svg>
<svg class="a" style="left:0;top:0" width="60" height="730" viewBox="0 0 60 730" shape-rendering="crispEdges"><rect x="27" y="708" width="4" height="1" fill="#000"/><rect x="27" y="715" width="4" height="1" fill="#000"/><rect x="25" y="710" width="1" height="4" fill="#000"/><rect x="32" y="710" width="1" height="4" fill="#000"/><rect x="26" y="709" width="1" height="1" fill="#000"/><rect x="31" y="709" width="1" height="1" fill="#000"/><rect x="26" y="714" width="1" height="1" fill="#000"/><rect x="31" y="714" width="1" height="1" fill="#000"/><rect x="28" y="710" width="2" height="4" fill="#ff0000"/><rect x="27" y="711" width="4" height="2" fill="#ff0000"/><rect x="28" y="705" width="1" height="2" fill="#ff0000"/><rect x="28" y="717" width="1" height="2" fill="#ff0000"/><rect x="22" y="711" width="2" height="1" fill="#ff0000"/><rect x="34" y="711" width="2" height="1" fill="#ff0000"/><rect x="23" y="706" width="1" height="1" fill="#ff0000"/><rect x="24" y="707" width="1" height="1" fill="#ff0000"/><rect x="34" y="706" width="1" height="1" fill="#ff0000"/><rect x="33" y="707" width="1" height="1" fill="#ff0000"/><rect x="24" y="716" width="1" height="1" fill="#ff0000"/><rect x="23" y="717" width="1" height="1" fill="#ff0000"/><rect x="33" y="716" width="1" height="1" fill="#ff0000"/><rect x="34" y="717" width="1" height="1" fill="#ff0000"/></svg>
<div class="yl" style="left:27.5px;top:37px">111.8450</div>
<div class="yl" style="left:27.5px;top:92px">110.4509</div>
<div class="yl" style="left:27.5px;top:147px">109.0569</div>
<div class="yl" style="left:27.5px;top:202px">107.6629</div>
<div class="yl" style="left:27.5px;top:257px">106.2688</div>
<div class="yl" style="left:27.5px;top:312px">104.8748</div>
<div class="yl" style="left:27.5px;top:367px">103.4808</div>
<div class="yl" style="left:27.5px;top:422px">102.0867</div>
<div class="yl" style="left:27.5px;top:477px">100.6927</div>
<div class="yl" style="left:27.5px;top:532px">99.2986</div>
<div class="yl" style="left:27.5px;top:587px">97.9046</div>
<div class="yl" style="left:27.5px;top:642px">96.5106</div>
<div class="yl" style="left:27.5px;top:719px">0.5259</div>
<div class="yl" style="left:27.5px;top:743px">0.3630</div>
<div class="yl" style="left:27.5px;top:768px">0.2001</div>
<div class="yl" style="left:27.5px;top:793px">0.0372</div>
<div class="yl" style="left:27.5px;top:818px">-0.1257</div>
<div class="yl" style="left:27.5px;top:842px">-0.2886</div>
<div class="yl" style="left:27.5px;top:867px">-0.4515</div>
<div class="yl" style="left:27.5px;top:892px">-0.6144</div>
<div class="a" style="left:92px;top:25.2px;font-size:12px;line-height:16px;color:#000;font-weight:400">美元指数<span style="color:#ff7a1a">【日线】</span></div>
<svg class="a" style="left:188px;top:30px" width="9" height="9" viewBox="0 0 9 9"><circle cx="4.5" cy="4.5" r="4" fill="none" stroke="#ff8000" stroke-width="0.9"/><rect x="1" y="4" width="7" height="1" fill="#ff8000" shape-rendering="crispEdges"/><rect x="4" y="1" width="1" height="7" fill="#ff8000" shape-rendering="crispEdges"/></svg>
<svg class="a" style="left:205px;top:24px" width="13" height="14" viewBox="0 0 13 14" shape-rendering="crispEdges"><rect x="0.5" y="0.5" width="11" height="12" fill="#fff" stroke="#000088"/><rect x="0" y="12" width="12.5" height="1.5" fill="#000088" shape-rendering="auto"/><rect x="11.5" y="0" width="1" height="13.5" fill="#000088" shape-rendering="auto" opacity=".55"/><polyline points="1.5,10.7 4.5,6.4 7.5,9.7 9.5,7.4 11,7.4" fill="none" stroke="#0000ff" stroke-width="1"/><polyline points="1.5,7.7 4.5,3.4 7.5,6.9 9.5,4.4 11,4.4" fill="none" stroke="#ff0000" stroke-width="1"/></svg>
<div class="a" style="left:220.3px;top:26px;line-height:14px;color:#16161e;letter-spacing:0.26px">MA1(50,0,200,0)</div>
<div class="a" style="left:317.8px;top:26px;line-height:14px;color:#16161e;letter-spacing:0.26px">MA50:98.6026</div>
<div class="a" style="left:407.5px;top:26px;line-height:14px;color:#1414a0;letter-spacing:0.3px">MA0:99.4820</div>
<div class="a" style="left:490.5px;top:26px;line-height:14px;color:#ff00ff;letter-spacing:0.34px">MA200:99.9508</div>
<div class="a" style="left:587.2px;top:26px;line-height:14px;color:#ff8418;letter-spacing:0.35px">MA0:99.4820</div>
<div class="a" style="left:92px;top:708px;line-height:14px;color:#16161e;letter-spacing:0.2px">MACD(13,8,9)</div>
<div class="a" style="left:175px;top:708px;line-height:14px;color:#16161e;letter-spacing:-0.05px">DIFF:0.0245</div>
<div class="a" style="left:248.6px;top:708px;line-height:14px;color:#1414a0;letter-spacing:0.08px">DEA:0.0775</div>
<div class="a" style="left:321.8px;top:708px;line-height:14px;color:#ff00ff;letter-spacing:0.22px">MACD:-0.1061</div>
<div class="a" style="left:603.5px;top:484px;line-height:14px;color:#d8504a;font-weight:bold;letter-spacing:.22px">100.3599</div>
<div class="a" style="left:393.5px;top:661.5px;line-height:14px;color:#7fa666;font-weight:bold;letter-spacing:.15px">96.2109</div>
<div class="a" style="left:193.5px;top:926.5px;line-height:14px;color:#1c1c28;font-weight:bold">2025/08</div>
<div class="a" style="left:318.8px;top:926.5px;line-height:14px;color:#1c1c28;font-weight:bold">2025/09</div>
<div class="a" style="left:451px;top:926.5px;line-height:14px;color:#1c1c28;font-weight:bold">2025/10</div>
<div class="a" style="left:588.7px;top:926.5px;line-height:14px;color:#1c1c28;font-weight:bold">2025/11</div>
<div class="a" style="left:20px;top:924px;width:70px;height:20px;box-sizing:border-box;border:1px solid #c8d0dc;background:#fff"></div>
<div class="a" style="left:35px;top:927.5px;font-size:12px;line-height:16px;font-weight:bold;letter-spacing:.8px;color:#ff7200">日线</div>
<svg class="a" style="left:64px;top:930px" width="10" height="10" viewBox="0 0 10 10"><path d="M5 0.8 L9.3 9 H0.7 Z" fill="#ff7200"/></svg>
<div class="a" style="left:90px;top:944px;width:699px;height:1px;background:#c8d0dc"></div>
<div class="a" style="left:0px;top:960px;width:789px;height:1px;background:#c8d0dc"></div>
<div class="a" style="left:169px;top:941px;width:333px;height:1px;background:#e9edf3"></div>
<div class="tab" style="left:20px;width:39px;background:#ff6600;color:#fff;top:944px;height:15px;line-height:19px;border-right:none;"><span style="position:relative;left:0.5px">指标</span></div>
<div class="tab" style="left:59px;width:41px;"><span style="position:relative;left:1px">模板</span></div>
<div class="tab" style="left:100px;width:58px;color:#ff7a00;"><span style="position:relative;left:1px"><span class="mono">VIP</span>指标</span></div>
<div class="tab mono" style="left:158px;width:28px;line-height:19px;"><span style="position:relative;left:0px">MA</span></div>
<div class="tab mono" style="left:186px;width:39px;line-height:19px;"><span style="position:relative;left:0px">MACD</span></div>
<div class="tab mono" style="left:225px;width:39.5px;line-height:19px;"><span style="position:relative;left:1.5px">BOLL</span></div>
<div class="tab mono" style="left:264.5px;width:35px;line-height:19px;"><span style="position:relative;left:1px">VOL</span></div>
<div class="tab mono" style="left:299.5px;width:40.5px;line-height:19px;"><span style="position:relative;left:0px">BIAS</span></div>
<div class="tab mono" style="left:340px;width:33px;line-height:19px;"><span style="position:relative;left:1px">CCI</span></div>
<div class="tab mono" style="left:373px;width:34px;line-height:19px;"><span style="position:relative;left:1px">KDJ</span></div>
<div class="tab mono" style="left:407px;width:39.5px;line-height:19px;"><span style="position:relative;left:-2px">LW&amp;</span></div>
<div class="tab mono" style="left:446.5px;width:35.5px;line-height:19px;"><span style="position:relative;left:0px">RSI</span></div>
<div class="tab mono" style="left:482px;width:28px;line-height:19px;"><span style="position:relative;left:0px">CR</span></div>
<div class="tab mono" style="left:510px;width:34.5px;line-height:19px;"><span style="position:relative;left:0px">PSY</span></div>
<div class="tab" style="left:544.5px;width:38.5px;"><span style="position:relative;left:1px">设置</span></div>
<div class="a" style="left:742px;top:963px;width:47px;height:6px;background:#b4b2b8"></div>
<div class="a" style="left:2px;top:969px;width:787px;height:1px;background:#d3d8e0"></div>
<div class="a" style="left:0;top:970px;width:47px;height:18px;border-right:1px solid #c8d0dc;box-sizing:border-box"></div>
<div class="a" style="left:12px;top:972px;font-size:12px;line-height:16px;color:#222">资讯</div>
<div class="a" style="left:0;top:988px;width:789px;height:7px;background:linear-gradient(#f2f3f7,#e6e8ee 3px,#e6e8ee);overflow:hidden"></div>
<div class="a" style="left:0;top:988px;width:789px;height:7px;overflow:hidden;font-size:12px;line-height:14px"><span class="a" style="left:14px;top:4.4px;color:#222">上证指数</span><span class="a" style="left:132px;top:3.1px;color:#1a9a3a;font-weight:bold">3990.49</span><span class="a" style="left:256px;top:3.1px;color:#1a9a3a;font-weight:bold">-40.04↓</span><span class="a" style="left:358px;top:3.1px;color:#1a9a3a;font-weight:bold">-1.00%</span><span class="a" style="left:418px;top:4.4px;color:#222">深证成指</span><span class="a" style="left:538px;top:3.1px;color:#1a9a3a;font-weight:bold">13216.03</span><span class="a" style="left:662px;top:3.1px;color:#1a9a3a;font-weight:bold">-171.43↓</span><span class="a" style="left:768px;top:3.1px;color:#1a9a3a;font-weight:bold">-1.28%</span></div>
<div class="a" style="left:660px;top:942px;font:30px/34px 'Liberation Sans',sans-serif;letter-spacing:2.2px;color:#d9e5f7;text-shadow:1px 1px 1px #a89a88">FX678</div>
</body></html>
